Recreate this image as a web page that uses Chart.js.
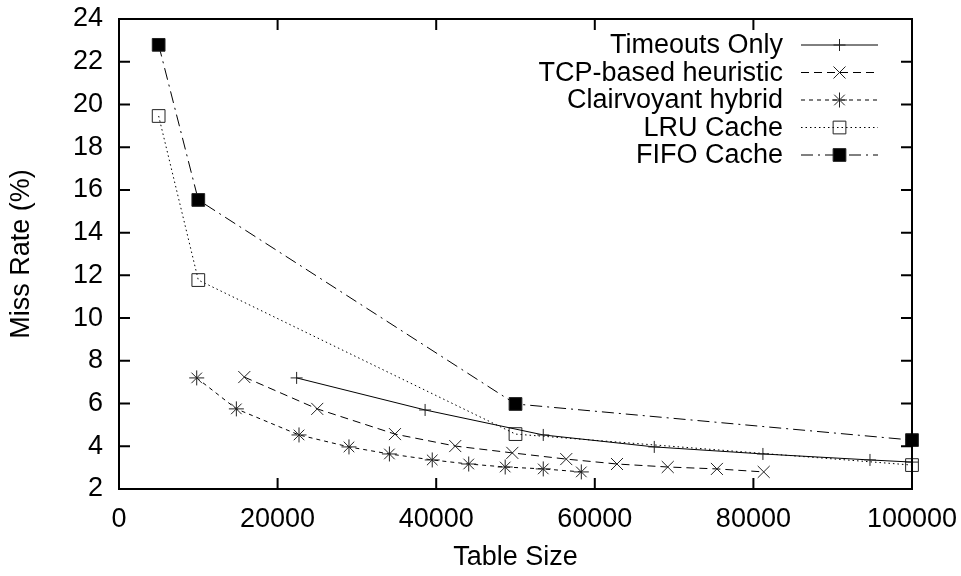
<!DOCTYPE html>
<html>
<head>
<meta charset="utf-8">
<script src="https://cdn.jsdelivr.net/npm/chart.js@4.4.0/dist/chart.umd.min.js"></script>
<style>
  html, body { margin: 0; padding: 0; background: #fff; }
</style>
</head>
<body>
<canvas id="chart" width="961" height="576"></canvas>
<script>
// axis ranges / ticks
const xMin = 0, xMax = 100000, xStep = 20000;
const yMin = 2, yMax = 24, yStep = 2;

// series values
const timeoutsX = [22400, 38600, 53500, 67500, 81200, 94700, 100000];
const timeoutsY = [7.20, 5.70, 4.53, 3.97, 3.64, 3.36, 3.26];

const tcpX = [15800, 25000, 34800, 42400, 49600, 56400, 62800, 69200, 75400, 81300];
const tcpY = [7.24, 5.75, 4.57, 4.01, 3.69, 3.40, 3.17, 3.03, 2.94, 2.80];

const clairX = [9800, 14800, 22700, 29000, 34100, 39500, 44100, 48700, 53500, 58300];
const clairY = [7.20, 5.75, 4.53, 3.97, 3.64, 3.36, 3.17, 3.03, 2.94, 2.80];

const lruX = [5000, 10000, 50000, 100000];
const lruY = [19.46, 11.78, 4.57, 3.12];

const fifoX = [5000, 10000, 50000, 100000];
const fifoY = [22.79, 15.53, 5.98, 4.29];

const FONT = 'Liberation Sans, Arial, Helvetica, sans-serif';

function pts(xs, ys) {
  return xs.map((x, i) => ({x: x, y: ys[i]}));
}

function series(label, xs, ys, dash, style, radius, fill) {
  return {
    label: label,
    data: pts(xs, ys),
    showLine: true,
    clip: false,
    borderColor: '#000',
    borderWidth: 1,
    borderDash: dash,
    pointStyle: style,
    pointRadius: radius,
    pointHoverRadius: radius,
    pointBorderColor: '#222',
    pointBorderWidth: 1,
    pointBackgroundColor: fill,
    backgroundColor: fill,
    fill: false,
    tension: 0
  };
}

const datasets = [
  series('Timeouts Only', timeoutsX, timeoutsY, [], 'cross', 6, 'transparent'),
  series('TCP-based heuristic', tcpX, tcpY, [8, 5], 'crossRot', 8.5, 'transparent'),
  series('Clairvoyant hybrid', clairX, clairY, [4, 4], 'star', 7.5, 'transparent'),
  series('LRU Cache', lruX, lruY, [1.5, 3], 'rect', 9, 'transparent'),
  series('FIFO Cache', fifoX, fifoY, [12, 5, 2, 5], 'rect', 9, '#000')
];

// box around the plot with inward ticks on all four sides + gnuplot style key
const framePlugin = {
  id: 'frame',
  afterDatasetsDraw(chart) {
    const ctx = chart.ctx;
    const a = chart.chartArea;
    const xs = chart.scales.x, ys = chart.scales.y;
    const tl = 11;
    ctx.save();
    ctx.strokeStyle = '#000';
    ctx.lineWidth = 2;
    ctx.setLineDash([]);
    ctx.beginPath();
    xs.ticks.forEach(t => {
      const px = xs.getPixelForValue(t.value);
      ctx.moveTo(px, a.bottom); ctx.lineTo(px, a.bottom - tl);
      ctx.moveTo(px, a.top); ctx.lineTo(px, a.top + tl);
    });
    ys.ticks.forEach(t => {
      const py = ys.getPixelForValue(t.value);
      ctx.moveTo(a.left, py); ctx.lineTo(a.left + tl, py);
      ctx.moveTo(a.right, py); ctx.lineTo(a.right - tl, py);
    });
    ctx.stroke();
    ctx.strokeRect(a.left, a.top, a.right - a.left, a.bottom - a.top);

    // key
    const textRight = a.right - 129;
    const x0 = a.right - 111, x1 = a.right - 34, xm = (x0 + x1) / 2;
    ctx.font = '27px ' + FONT;
    ctx.textAlign = 'right';
    ctx.textBaseline = 'middle';
    chart.data.datasets.forEach((ds, i) => {
      const y = a.top + 26 + i * 27.5;
      ctx.fillStyle = '#000';
      ctx.fillText(ds.label, textRight, y + 1);
      ctx.lineWidth = 1;
      ctx.strokeStyle = '#000';
      ctx.setLineDash(ds.borderDash);
      ctx.beginPath();
      ctx.moveTo(x0, y); ctx.lineTo(x1, y);
      ctx.stroke();
      ctx.setLineDash([]);
      ctx.strokeStyle = ds.pointBorderColor;
      ctx.fillStyle = ds.pointBackgroundColor;
      Chart.helpers.drawPoint(ctx, {pointStyle: ds.pointStyle, radius: ds.pointRadius, rotation: 0, borderWidth: 1}, xm, y);
    });
    ctx.restore();
  }
};

new Chart(document.getElementById('chart'), {
  type: 'scatter',
  data: { datasets: datasets },
  options: {
    responsive: false,
    animation: false,
    devicePixelRatio: 1,
    layout: { padding: { top: 19, right: 49, bottom: 0, left: 0 } },
    plugins: {
      legend: { display: false },
      tooltip: { enabled: false }
    },
    scales: {
      x: {
        type: 'linear',
        min: xMin, max: xMax,
        grid: { display: false },
        border: { display: false },
        ticks: { stepSize: xStep, color: '#000', padding: 6, maxRotation: 0,
                 font: { family: FONT, size: 27 }, callback: v => String(v) },
        title: { display: true, text: 'Table Size', color: '#000', padding: { top: 0, bottom: 2 }, font: { family: FONT, size: 27 } },
        afterFit(scale) { scale.height = 87; scale.paddingLeft = 0; scale.paddingRight = 0; }
      },
      y: {
        type: 'linear',
        min: yMin, max: yMax,
        grid: { display: false },
        border: { display: false },
        ticks: { stepSize: yStep, color: '#000', padding: 8,
                 font: { family: FONT, size: 27 }, callback: v => String(v) },
        title: { display: true, text: 'Miss Rate (%)', color: '#000', padding: { top: 5, bottom: 0 }, font: { family: FONT, size: 27 } },
        afterFit(scale) { scale.width = 119; scale.paddingTop = 0; scale.paddingBottom = 0; }
      }
    }
  },
  plugins: [framePlugin]
});
</script>
</body>
</html>
